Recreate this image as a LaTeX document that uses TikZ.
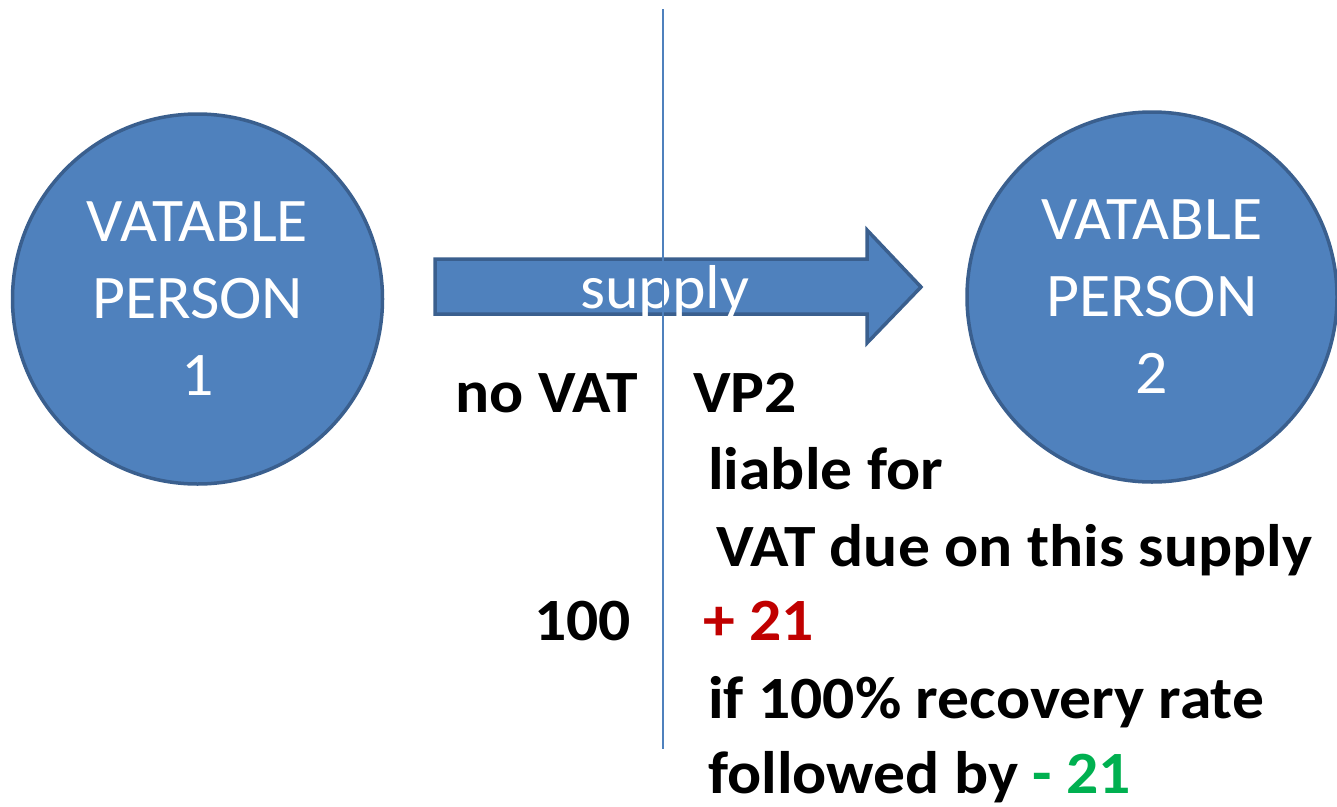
\documentclass[tikz,border=0pt]{standalone}
\usepackage{fontspec}
\setmainfont{Carlito}
\newfontfamily\widefont[FakeStretch=1.03]{Carlito}
\newfontfamily\widebold[FakeStretch=1.06,UprightFont=* Bold]{Carlito}
\definecolor{fillblue}{HTML}{4F81BD}
\definecolor{edgeblue}{HTML}{3A5F8E}
\definecolor{redtxt}{HTML}{C00000}
\definecolor{greentxt}{HTML}{00B050}
\begin{document}
\begin{tikzpicture}[x=1pt,y=-1pt,
  person/.style={circle,draw=edgeblue,fill=fillblue,line width=3.5pt,minimum size=370pt,inner sep=0pt,
    text=white,align=center,font=\widefont\fontsize{62}{77}\selectfont},
  bold/.style={font=\widebold\fontsize{60}{77}\selectfont,inner sep=0pt}]
\useasboundingbox (0,0) rectangle (1337,806);
\node[person] (p1) at (197.5,299) {VATABLE\\PERSON\\1};
\node[person] (p2) at (1152,297) {VATABLE\\PERSON\\2};
% block arrow
\coordinate (a0) at (435,259);
\coordinate (a1) at (867,259);
\coordinate (a2) at (867,230);
\coordinate (tip) at (921,287);
\coordinate (a3) at (867,343);
\coordinate (a4) at (867,314);
\coordinate (a5) at (435,314);
\draw[draw=edgeblue,fill=fillblue,line width=3.5pt] (a0) -- (a1) -- (a2) -- (tip) -- (a3) -- (a4) -- (a5) -- cycle;
\node[anchor=base,text=white,font=\widefont\fontsize{62}{77}\selectfont,inner sep=0pt] (sup) at (665,308) {supply};
% divider
\coordinate (dtop) at (663,9);
\coordinate (dbot) at (663,749);
\draw[fillblue,line width=2pt] (dtop) -- (dbot);
% left texts
\node[bold,anchor=base east] (novat) at (638,412) {no VAT};
\node[bold,anchor=base east] (hund) at (631,640) {100};
% right texts
\node[bold,anchor=base west] (vp2) at (693,412) {VP2};
\node[bold,anchor=base west] (liab) at (708,489) {liable for};
\node[bold,anchor=base west] (due) at (716,566) {VAT due on this supply};
\node[bold,anchor=base west] (plus) at (703,640) {\textcolor{redtxt}{+ 21}};
\node[bold,anchor=base west] (iff) at (708,718) {if 100\% recovery rate};
\node[bold,anchor=base west] (foll) at (708,793) {followed by \textcolor{greentxt}{- 21}};
\end{tikzpicture}
\end{document}
